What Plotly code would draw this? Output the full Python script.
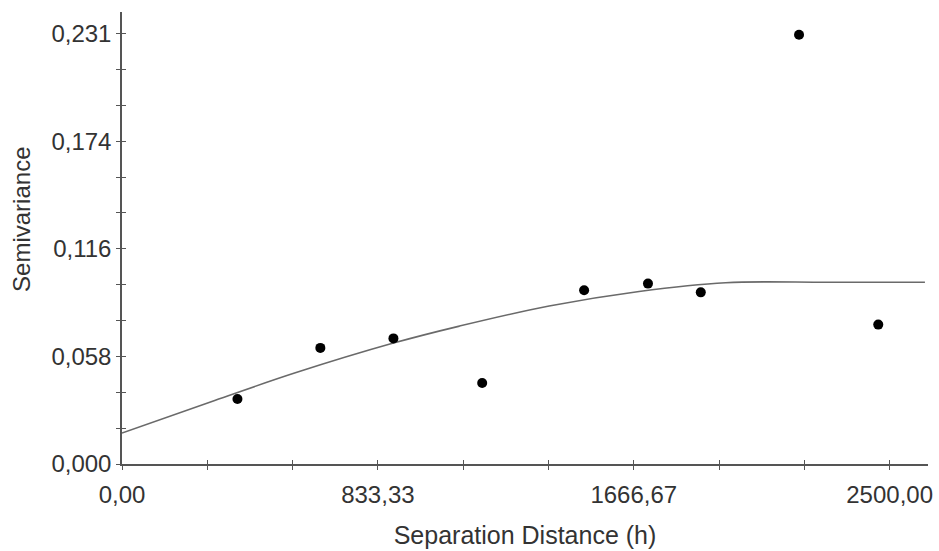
import plotly.graph_objects as go

# Experimental semivariogram points
lag_distance = [376, 646, 884, 1173, 1505, 1713, 1885, 2205, 2463]
semivariance = [0.0349, 0.0623, 0.0674, 0.0435, 0.0932, 0.0968, 0.0921, 0.2303, 0.0748]

# Fitted model curve
model_distance = [0, 302, 562, 884, 1099, 1391, 1684, 1966, 2300, 2615]
model_semivariance = [0.0166, 0.0341, 0.0488, 0.0649, 0.0740, 0.0848, 0.0926, 0.0973, 0.0975, 0.0975]

# Axis ticks
x_tickvals = [0, 833.33, 1666.67, 2500]
x_ticktext = ["0,00", "833,33", "1666,67", "2500,00"]
x_minor = [277.78, 555.56, 1111.11, 1388.89, 1944.44, 2222.22]
y_tickvals = [0, 0.05775, 0.1155, 0.17325, 0.231]
y_ticktext = ["0,000", "0,058", "0,116", "0,174", "0,231"]
y_minor = [0.01925, 0.0385, 0.077, 0.09625, 0.13475, 0.154, 0.19250, 0.21175]

x_range = [0, 2625]
y_range = [0, 0.24255]

axis_color = "#555555"
font_color = "#333333"
font_family = "Liberation Sans, Arial, sans-serif"

fig = go.Figure()
fig.add_trace(go.Scatter(
    x=model_distance, y=model_semivariance, mode="lines",
    line=dict(color="#6a6a6a", width=1.6, shape="spline", smoothing=1.0),
    hoverinfo="skip", showlegend=False))
fig.add_trace(go.Scatter(
    x=lag_distance, y=semivariance, mode="markers",
    marker=dict(color="black", size=10), showlegend=False))
fig.add_trace(go.Scatter(x=[], y=[], xaxis="x2", yaxis="y2", showlegend=False))

common = dict(showgrid=False, zeroline=False, showline=True, linecolor=axis_color,
              linewidth=1.5, tickcolor=axis_color, ticklen=4, tickwidth=1.3, automargin=False)

fig.update_layout(
    width=939, height=551,
    margin=dict(l=122, r=11, t=12, b=87),
    paper_bgcolor="white", plot_bgcolor="white",
    font=dict(family=font_family, color=font_color, size=24),
    xaxis=dict(range=x_range, tickvals=x_tickvals, ticktext=x_ticktext, ticks="outside",
               minor=dict(tickvals=x_minor, ticks="outside", ticklen=4, tickcolor=axis_color, tickwidth=1.3),
               tickfont=dict(size=24, color=font_color), ticklabelstandoff=4,
               ticklabeloverflow="allow",
               title=dict(text="Separation Distance (h)", font=dict(size=25, color=font_color), standoff=20),
               **common),
    yaxis=dict(range=y_range, tickvals=y_tickvals, ticktext=y_ticktext, ticks="outside",
               minor=dict(tickvals=y_minor, ticks="outside", ticklen=4, tickcolor=axis_color, tickwidth=1.3),
               tickfont=dict(size=24, color=font_color), ticklabelstandoff=0,
               ticklabeloverflow="allow",
               **common),
    xaxis2=dict(range=x_range, overlaying="x", anchor="y2", side="bottom", tickvals=x_tickvals,
                showticklabels=False, ticks="inside",
                minor=dict(tickvals=x_minor, ticks="inside", ticklen=4, tickcolor=axis_color, tickwidth=1.3),
                **common),
    yaxis2=dict(range=y_range, overlaying="y", anchor="x2", side="left", tickvals=y_tickvals,
                showticklabels=False, ticks="inside",
                minor=dict(tickvals=y_minor, ticks="inside", ticklen=4, tickcolor=axis_color, tickwidth=1.3),
                **common),
    annotations=[dict(text="Semivariance", xref="paper", yref="paper", x=0, y=0.54,
                      xshift=-100, xanchor="center", yanchor="middle", textangle=-90,
                      showarrow=False, font=dict(size=24, color=font_color))],
)

fig.write_html("out.html", config={"displayModeBar": False},
               post_script="document.body.style.margin='0';document.body.style.overflow='hidden';")
